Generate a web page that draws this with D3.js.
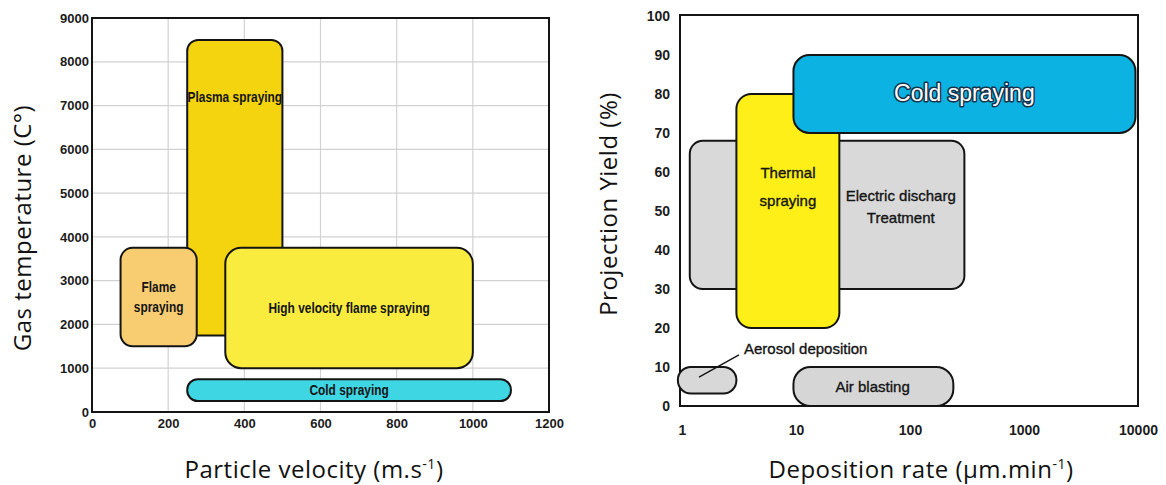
<!DOCTYPE html>
<html>
<head>
<meta charset="utf-8">
<script src="https://cdn.jsdelivr.net/npm/d3@7"></script>
<style>
  body { margin: 0; background: #fff; }
  svg { display: block; }
</style>
</head>
<body>
<svg id="chart" width="1166" height="485"></svg>
<script>
// ---------- Left panel: gas temperature vs particle velocity ----------
const velocityTicks = [0, 200, 400, 600, 800, 1000, 1200];
const temperatureTicks = [0, 1000, 2000, 3000, 4000, 5000, 6000, 7000, 8000, 9000];
const processesA = ["Plasma spraying", "Flame spraying", "High velocity flame spraying", "Cold spraying"];
const labelLinesA = [["Plasma spraying"], ["Flame", "spraying"], ["High velocity flame spraying"], ["Cold spraying"]];
const velocityMin = [250, 75, 350, 250];
const velocityMax = [500, 275, 1000, 1100];
const temperatureMin = [1750, 1500, 1000, 250];
const temperatureMax = [8500, 3750, 3750, 750];
const labelTemperature = [7200, 2625, 2375, 500];

// ---------- Right panel: projection yield vs deposition rate ----------
const rateTicks = [1, 10, 100, 1000, 10000];
const yieldTicks = [0, 10, 20, 30, 40, 50, 60, 70, 80, 90, 100];
const processesB = ["Electric discharge treatment", "Aerosol deposition", "Air blasting", "Thermal spraying", "Cold spraying"];
const labelLinesB = [["Electric discharg", "Treatment"], [], ["Air blasting"], ["Thermal", "spraying"], ["Cold  spraying"]];
const rateMin = [1.17, 0.92, 9.5, 3, 9.5];
const rateMax = [300, 3, 240, 24, 9500];
const yieldMin = [30, 3.2, 0, 20, 70];
const yieldMax = [68, 10, 10, 80, 90];
const labelRate = [83, null, 47, 8.5, 300];
const labelYield = [51.2, null, 4.9, 56.2, 80.3];
const aerosolCallout = { from: [1.41, 7.4], to: [3.16, 13.1], label: "Aerosol deposition", at: [3.5, 14.6] };

const svg = d3.select("#chart");
const INK = "#141414";
const TICK_FONT = "Liberation Sans, Arial, sans-serif";
const TITLE_FONT = "'Open Sans', Lato, sans-serif";

// ===== Left panel =====
const xA = d3.scaleLinear().domain([0, 1200]).range([92, 549]);
const yA = d3.scaleLinear().domain([0, 9000]).range([412, 18]);
const gA = svg.append("g");

// grid
gA.append("g").selectAll("line").data(velocityTicks.slice(1, -1)).join("line")
  .attr("x1", d => xA(d)).attr("x2", d => xA(d))
  .attr("y1", yA(9000)).attr("y2", yA(0))
  .attr("stroke", "#d2d2d2").attr("stroke-width", 1.2);
gA.append("g").selectAll("line").data(temperatureTicks.slice(1, -1)).join("line")
  .attr("y1", d => yA(d)).attr("y2", d => yA(d))
  .attr("x1", xA(0)).attr("x2", xA(1200))
  .attr("stroke", "#d2d2d2").attr("stroke-width", 1.2);

// frame
gA.append("rect")
  .attr("x", xA(0)).attr("y", yA(9000))
  .attr("width", xA(1200) - xA(0)).attr("height", yA(0) - yA(9000))
  .attr("fill", "none").attr("stroke", INK).attr("stroke-width", 2);

const fillsA = ["#f4d40e", "#f8cd72", "#f9ec3e", "#3fd6e3"];
const radiiA = [11, 12, 16, 10.5];
const boxesA = processesA.map((p, i) => ({ p, i }));
gA.append("g").selectAll("rect").data(boxesA).join("rect")
  .attr("x", d => xA(velocityMin[d.i]))
  .attr("y", d => yA(temperatureMax[d.i]))
  .attr("width", d => xA(velocityMax[d.i]) - xA(velocityMin[d.i]))
  .attr("height", d => yA(temperatureMin[d.i]) - yA(temperatureMax[d.i]))
  .attr("rx", d => radiiA[d.i]).attr("ry", d => radiiA[d.i])
  .attr("fill", d => fillsA[d.i])
  .attr("stroke", INK).attr("stroke-width", 2);

// box labels (narrow bold face)
boxesA.forEach(d => {
  const cx = xA((velocityMin[d.i] + velocityMax[d.i]) / 2);
  const cy = yA(labelTemperature[d.i]);
  const lines = labelLinesA[d.i];
  const lh = 20;
  const t = gA.append("text")
    .attr("transform", `translate(${cx},${cy}) scale(0.85,1)`)
    .attr("text-anchor", "middle")
    .attr("font-family", TICK_FONT)
    .attr("font-weight", "bold").attr("font-size", 14)
    .attr("fill", INK);
  lines.forEach((ln, k) => {
    t.append("tspan").attr("x", 0)
      .attr("y", (k - (lines.length - 1) / 2) * lh)
      .attr("dy", "0.35em").text(ln);
  });
});

// axes
const axA_x = gA.append("g").attr("transform", `translate(0,${yA(0)})`)
  .call(d3.axisBottom(xA).tickValues(velocityTicks).tickFormat(d3.format("d")).tickSize(0).tickPadding(7));
const axA_y = gA.append("g").attr("transform", `translate(${xA(0)},0)`)
  .call(d3.axisLeft(yA).tickValues(temperatureTicks).tickFormat(d3.format("d")).tickSize(0).tickPadding(3));
[axA_x, axA_y].forEach(a => {
  a.select(".domain").remove();
  a.selectAll("text")
    .attr("font-family", TICK_FONT)
    .attr("font-weight", "bold").attr("font-size", 13)
    .attr("fill", "#1c1c1c");
});

// axis titles
function title(node) {
  return node.attr("font-family", TITLE_FONT).attr("font-size", 24)
    .attr("letter-spacing", 0.5).attr("fill", "#111").attr("text-anchor", "middle");
}
title(svg.append("text"))
  .attr("transform", "translate(31,228) rotate(-90)")
  .text("Gas temperature (C°)");
const tA = title(svg.append("text")).attr("x", 314).attr("y", 478);
tA.append("tspan").text("Particle velocity (m.s");
tA.append("tspan").attr("font-size", 14).attr("dy", -9).text("-1");
tA.append("tspan").attr("dy", 9).text(")");

// ===== Right panel =====
const xB = d3.scaleLog().domain([1, 10000]).range([682, 1138]);
const yB = d3.scaleLinear().domain([0, 100]).range([406, 16]);
const gB = svg.append("g");

gB.append("rect")
  .attr("x", 680).attr("y", yB(100) - 1)
  .attr("width", xB(10000) - 680).attr("height", yB(0) - yB(100) + 1)
  .attr("fill", "none").attr("stroke", INK).attr("stroke-width", 2);

const fillsB = ["#d9d9d9", "#d8d8d8", "#d6d6d6", "#fdef17", "#0bb2e2"];
const radiiB = [13, 13, 17, 15, 16];
const boxesB = processesB.map((p, i) => ({ p, i }));
gB.append("g").selectAll("rect").data(boxesB).join("rect")
  .attr("x", d => xB(rateMin[d.i]))
  .attr("y", d => yB(yieldMax[d.i]))
  .attr("width", d => xB(rateMax[d.i]) - xB(rateMin[d.i]))
  .attr("height", d => yB(yieldMin[d.i]) - yB(yieldMax[d.i]))
  .attr("rx", d => radiiB[d.i]).attr("ry", d => radiiB[d.i])
  .attr("fill", d => fillsB[d.i])
  .attr("stroke", INK).attr("stroke-width", 2);

boxesB.forEach(d => {
  const lines = labelLinesB[d.i];
  if (!lines.length) return;
  const isCold = d.p === "Cold spraying";
  const lh = isCold ? 26 : (d.i === 3 ? 28 : 22);
  const t = gB.append("text")
    .attr("transform", `translate(${xB(labelRate[d.i])},${yB(labelYield[d.i])})`)
    .attr("text-anchor", "middle")
    .attr("font-family", TICK_FONT)
    .attr("font-size", isCold ? 23 : 15)
    .attr("fill", isCold ? "#ffffff" : INK)
    .attr("stroke", isCold ? "#17324a" : INK)
    .attr("stroke-width", isCold ? 3 : 0.35)
    .attr("paint-order", "stroke")
    .attr("stroke-linejoin", "round");
  lines.forEach((ln, k) => {
    t.append("tspan").attr("x", 0)
      .attr("y", (k - (lines.length - 1) / 2) * lh)
      .attr("dy", "0.35em").text(ln);
  });
});

// aerosol callout
gB.append("line")
  .attr("x1", xB(aerosolCallout.from[0])).attr("y1", yB(aerosolCallout.from[1]))
  .attr("x2", xB(aerosolCallout.to[0])).attr("y2", yB(aerosolCallout.to[1]))
  .attr("stroke", INK).attr("stroke-width", 1.4);
gB.append("text")
  .attr("x", xB(aerosolCallout.at[0])).attr("y", yB(aerosolCallout.at[1]))
  .attr("dy", "0.35em")
  .attr("font-family", TICK_FONT)
  .attr("font-size", 15).attr("fill", INK)
  .attr("stroke", INK).attr("stroke-width", 0.35)
  .text(aerosolCallout.label);

const axB_x = gB.append("g").attr("transform", `translate(0,${yB(0)})`)
  .call(d3.axisBottom(xB).tickValues(rateTicks).tickFormat(d3.format("d")).tickSize(0).tickPadding(19));
const axB_y = gB.append("g").attr("transform", `translate(${xB(1)},0)`)
  .call(d3.axisLeft(yB).tickValues(yieldTicks).tickSize(0).tickPadding(12));
[axB_x, axB_y].forEach(a => {
  a.select(".domain").remove();
  a.selectAll("text")
    .attr("font-family", TICK_FONT)
    .attr("font-weight", "bold").attr("font-size", 14)
    .attr("fill", "#1c1c1c");
});

title(svg.append("text"))
  .attr("transform", "translate(617,204) rotate(-90)")
  .text("Projection Yield (%)");
const tB = title(svg.append("text")).attr("x", 921).attr("y", 478);
tB.append("tspan").text("Deposition rate (µm.min");
tB.append("tspan").attr("font-size", 14).attr("dy", -9).text("-1");
tB.append("tspan").attr("dy", 9).text(")");
</script>
</body>
</html>
